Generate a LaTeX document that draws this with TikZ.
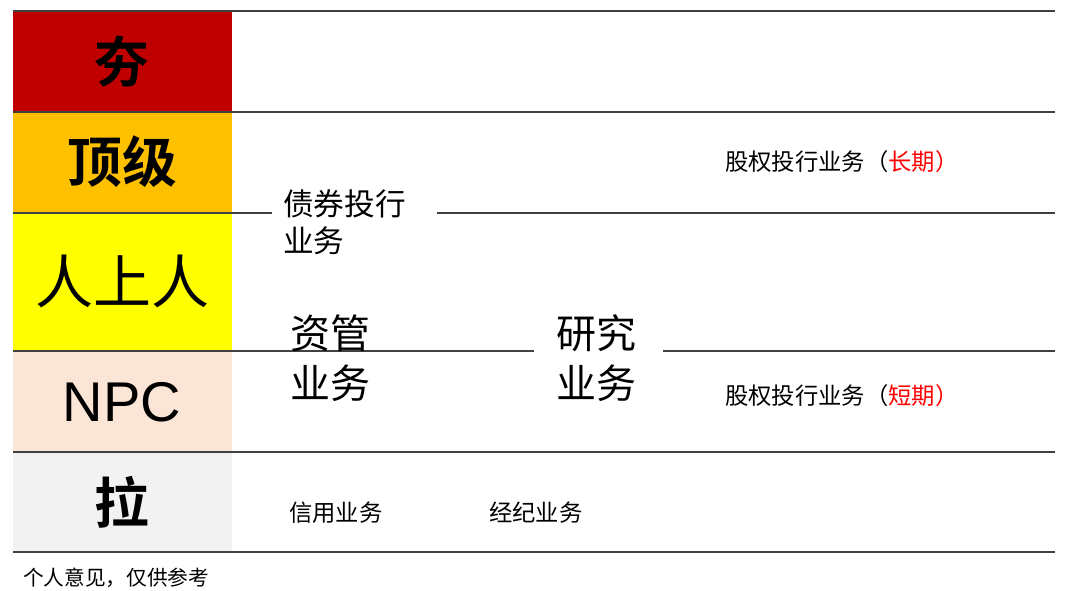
\documentclass[tikz,border=0pt]{standalone}
\usepackage{fontspec}
\setmainfont{Noto Sans CJK SC}[BoldFont={Noto Sans CJK SC Bold}]
\newfontfamily\latinfont{Liberation Sans}
\usepackage{xcolor}
\usetikzlibrary{positioning}
\definecolor{hangred}{HTML}{C00000}
\definecolor{toporange}{HTML}{FFC000}
\definecolor{upyellow}{HTML}{FFFF00}
\definecolor{npcpeach}{HTML}{FBE5D6}
\definecolor{lagrey}{HTML}{F2F2F2}
\definecolor{rule}{HTML}{404040}
\tikzset{
    tier/.style={font=\bfseries\fontsize{41}{41}\selectfont, inner sep=0pt},
    biz/.style={anchor=west, inner sep=0pt, align=left},
    row/.style={draw=rule, line width=0.9pt}
}

\begin{document}
\begin{tikzpicture}[x=0.75pt, y=-0.75pt]
\useasboundingbox (0,0) rectangle (1080,591);

% Colonna dei livelli
\fill[hangred]  (13,11)  rectangle (232,112);
\fill[toporange] (13,112) rectangle (232,213);
\fill[upyellow] (13,213) rectangle (232,351);
\fill[npcpeach] (13,351) rectangle (232,452);
\fill[lagrey]   (13,452) rectangle (232,552);

% Righe
\draw[row] (13,11)  -- (1055,11);
\draw[row] (13,112) -- (1055,112);
\draw[row] (13,213) -- (272,213);
\draw[row] (437,213) -- (1055,213);
\draw[row] (13,351) -- (534,351);
\draw[row] (663,351) -- (1055,351);
\draw[row] (13,452) -- (1055,452);
\draw[row] (13,552) -- (1055,552);

% Etichette dei livelli
\node[tier] (hang) at (122,62) {夯};
\node[tier] (dingji) at (122,162) {顶级};
\node[inner sep=0pt, font=\fontsize{43.5}{43.5}\selectfont] (renshangren) at (122,281) {人上人};
\node[inner sep=0pt, font=\latinfont\fontsize{42}{42}\selectfont] (npc) at (122,402) {NPC};
\node[tier] (la) at (122,502) {拉};

% Attivita
\node[biz, font=\fontsize{23}{27.75}\selectfont] (zhaiquan) at (283,222) {债券投行\\业务};
\node[biz, font=\fontsize{30}{37.5}\selectfont] (ziguan) at (290,358) {资管\\业务};
\node[biz, font=\fontsize{30}{37.5}\selectfont] (yanjiu) at (556,358) {研究\\业务};
\node[biz, font=\fontsize{17.5}{17.5}\selectfont] (guquanlong) at (725,162)
    {股权投行业务（\textcolor{red}{长期）}};
\node[biz, font=\fontsize{17.5}{17.5}\selectfont] (guquanshort) at (725,396)
    {股权投行业务（\textcolor{red}{短期）}};
\node[biz, font=\fontsize{17.5}{17.5}\selectfont] (xinyong) at (289,513) {信用业务};
\node[biz, font=\fontsize{17.5}{17.5}\selectfont] (jingji) at (489,513) {经纪业务};

% Nota
\node[biz, font=\fontsize{15.5}{15.5}\selectfont] (nota) at (23,578) {个人意见，仅供参考};

\end{tikzpicture}
\end{document}
